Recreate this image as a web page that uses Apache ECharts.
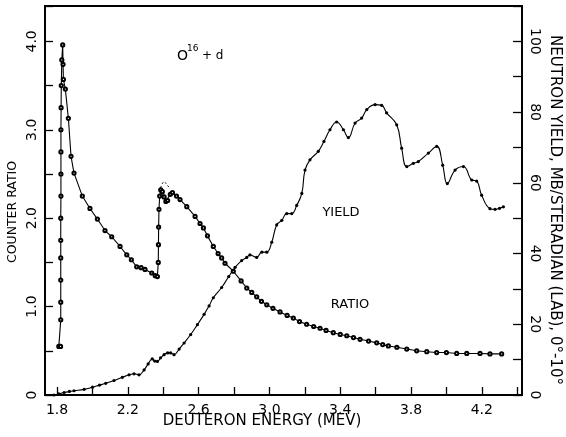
<!DOCTYPE html>
<html><head><meta charset="utf-8">
<script src="https://cdn.jsdelivr.net/npm/echarts@6/dist/echarts.min.js"></script>
<style>html,body{margin:0;padding:0;background:#fff}#c{width:566px;height:437px}</style>
</head><body><div id="c"></div>
<script>
// Counter ratio (left axis), open circles: [deuteron energy MeV, ratio]
const ratioData = [
  [1.810,0.55],[1.815,0.55],[1.820,0.55],[1.821,0.85],[1.821,1.05],[1.821,1.3],[1.821,1.55],
  [1.821,1.75],[1.821,2.0],[1.822,2.25],[1.822,2.5],[1.822,2.75],[1.822,3.0],[1.823,3.25],
  [1.824,3.5],[1.827,3.79],[1.832,3.96],[1.834,3.74],[1.836,3.57],[1.847,3.46],[1.864,3.13],
  [1.879,2.70],[1.896,2.51],[1.943,2.25],[1.986,2.11],[2.028,1.99],[2.071,1.86],[2.109,1.79],
  [2.156,1.68],[2.194,1.585],[2.220,1.53],[2.250,1.45],[2.275,1.44],[2.297,1.42],[2.335,1.38],
  [2.355,1.35],[2.367,1.34],[2.372,1.5],[2.373,1.7],[2.374,1.9],[2.376,2.1],[2.380,2.25],
  [2.386,2.32],[2.395,2.30],[2.405,2.24],[2.415,2.19],[2.425,2.20],[2.440,2.27],[2.452,2.29],
  [2.475,2.25],[2.495,2.21],[2.533,2.13],[2.580,2.02],[2.608,1.94],[2.627,1.89],[2.650,1.80],
  [2.683,1.68],[2.710,1.60],[2.730,1.55],[2.749,1.49],[2.796,1.40],[2.840,1.29],[2.872,1.21],
  [2.900,1.16],[2.928,1.11],[2.955,1.06],[2.985,1.02],[3.020,0.98],[3.060,0.94],[3.100,0.90],
  [3.135,0.87],[3.170,0.83],[3.210,0.80],[3.250,0.775],[3.286,0.755],[3.320,0.73],[3.361,0.705],
  [3.400,0.685],[3.437,0.67],[3.475,0.65],[3.512,0.63],[3.560,0.61],[3.606,0.59],[3.640,0.57],
  [3.672,0.555],[3.720,0.54],[3.776,0.52],[3.832,0.50],[3.889,0.49],[3.945,0.48],[4.000,0.48],
  [4.058,0.47],[4.115,0.47],[4.190,0.47],[4.246,0.465],[4.312,0.465]
];
// Dashed alternative trace near 2.4 MeV
const ratioAltData = [[2.380,2.30],[2.392,2.38],[2.405,2.41],[2.420,2.38],[2.440,2.33]];
// Neutron yield (right axis), filled dots: [deuteron energy MeV, mb/sr]
const yieldData = [
  [1.783,0],[1.810,0.3],[1.840,0.7],[1.870,1.0],[1.896,1.2],[1.953,1.6],[2.000,2.2],[2.040,2.8],
  [2.075,3.3],[2.122,4.1],[2.169,5.0],[2.207,5.7],[2.235,6.0],[2.263,5.7],[2.292,7.1],[2.315,8.8],
  [2.338,10.2],[2.352,9.6],[2.367,9.5],[2.385,10.5],[2.405,11.4],[2.425,11.9],[2.442,11.9],
  [2.461,11.4],[2.490,13.0],[2.518,14.7],[2.555,17.1],[2.593,19.9],[2.631,22.8],[2.659,25.2],
  [2.683,27.5],[2.730,30.4],[2.770,33.5],[2.806,36.1],[2.843,38.0],[2.872,38.9],[2.890,39.6],
  [2.928,38.9],[2.957,40.4],[2.985,40.4],[3.013,43.2],[3.041,48.1],[3.070,49.4],[3.098,51.3],
  [3.126,51.3],[3.154,53.6],[3.183,57.0],[3.201,63.6],[3.229,66.5],[3.276,68.9],[3.308,71.7],
  [3.342,75.0],[3.380,77.2],[3.418,75.0],[3.446,72.8],[3.484,76.9],[3.521,78.3],[3.550,80.7],
  [3.597,82.1],[3.634,81.9],[3.662,79.8],[3.719,76.4],[3.747,69.8],[3.776,64.6],[3.813,65.5],
  [3.841,66.0],[3.898,68.4],[3.945,70.3],[3.979,65.0],[4.005,59.8],[4.049,63.6],[4.096,64.6],
  [4.143,60.8],[4.171,60.5],[4.199,56.5],[4.246,52.7],[4.275,52.5],[4.300,52.8],[4.322,53.2]
];
const xTickValues = [1.8,2.0,2.2,2.4,2.6,2.8,3.0,3.2,3.4,3.6,3.8,4.0,4.2,4.4];
const xLabelValues = [1.8,2.2,2.6,3.0,3.4,3.8,4.2];

const FONT = 'DejaVu Sans';
const chart = echarts.init(document.getElementById('c'), null, {renderer:'canvas'});
chart.setOption({
  animation:false,
  backgroundColor:'#fff',
  grid:{left:45,right:44,top:6,bottom:42,show:true,borderColor:'#000',borderWidth:1.8,containLabel:false},
  xAxis:{
    type:'value',min:1.732,max:4.427,
    axisLine:{show:true,lineStyle:{color:'#000',width:1.8}},
    axisTick:{show:true,inside:true,length:8,customValues:xTickValues,lineStyle:{color:'#000',width:1.3}},
    axisLabel:{customValues:xLabelValues,color:'#000',fontFamily:FONT,fontSize:14,margin:8,
      formatter:v=>v.toFixed(1)},
    splitLine:{show:false}
  },
  yAxis:[{
    type:'value',min:0,max:4.4,interval:0.5,position:'left',
    axisLine:{show:true,lineStyle:{color:'#000',width:1.8}},
    axisTick:{show:true,inside:true,length:8,lineStyle:{color:'#000',width:1.3}},
    axisLabel:{rotate:90,color:'#000',fontFamily:FONT,fontSize:14,margin:6,
      formatter:v=>{ if(v===0) return '0'; if(Math.abs(v-Math.round(v))<1e-9 && v<=4) return v.toFixed(1); return ''; }},
    splitLine:{show:false}
  },{
    type:'value',min:0,max:110,interval:10,position:'right',
    axisLine:{show:true,lineStyle:{color:'#000',width:1.8}},
    axisTick:{show:true,inside:true,length:9,lineStyle:{color:'#000',width:1.3}},
    axisLabel:{rotate:-90,color:'#000',fontFamily:FONT,fontSize:14,margin:6,
      formatter:v=>(v%20===0 && v<=100)?String(v):''},
    splitLine:{show:false}
  }],
  graphic:[
    {type:'text',x:12.5,y:212,rotation:Math.PI/2,style:{text:'COUNTER RATIO',fontFamily:FONT,fontSize:12.5,fill:'#000',align:'center',verticalAlign:'middle'}},
    {type:'text',x:555,y:210,rotation:-Math.PI/2,style:{text:'NEUTRON YIELD, MB/STERADIAN (LAB), 0°-10°',fontFamily:FONT,fontSize:15,fill:'#000',align:'center',verticalAlign:'middle'}},
    {type:'text',x:262,y:421,style:{text:'DEUTERON ENERGY (MEV)',fontFamily:FONT,fontSize:15,fill:'#000',align:'center',verticalAlign:'middle'}},
    {type:'text',x:177,y:56,style:{text:'O',fontFamily:FONT,fontSize:14,fill:'#000',align:'left',verticalAlign:'middle'}},
    {type:'text',x:187,y:49,style:{text:'16',fontFamily:FONT,fontSize:9,fill:'#000',align:'left',verticalAlign:'middle'}},
    {type:'text',x:202,y:56,style:{text:'+ d',fontFamily:FONT,fontSize:12,fill:'#000',align:'left',verticalAlign:'middle'}},
    {type:'text',x:341,y:213,style:{text:'YIELD',fontFamily:FONT,fontSize:13,fill:'#000',align:'center',verticalAlign:'middle'}},
    {type:'text',x:350,y:305,style:{text:'RATIO',fontFamily:FONT,fontSize:13,fill:'#000',align:'center',verticalAlign:'middle'}}
  ],
  series:[
    {name:'RATIO',type:'line',yAxisIndex:0,data:ratioData,smooth:false,
     symbol:'emptyCircle',symbolSize:3.2,showAllSymbol:true,
     lineStyle:{color:'#000',width:1.1},itemStyle:{color:'#000',borderColor:'#000',borderWidth:0.8}},
    {name:'RATIO (alt)',type:'line',yAxisIndex:0,data:ratioAltData,smooth:0.5,symbol:'none',
     lineStyle:{color:'#000',width:0.9,type:[2,2]}},
    {name:'YIELD',type:'line',yAxisIndex:1,data:yieldData,smooth:0.45,
     symbol:'circle',symbolSize:3.2,showAllSymbol:true,
     lineStyle:{color:'#000',width:1.1},itemStyle:{color:'#000'}}
  ]
});
</script></body></html>
